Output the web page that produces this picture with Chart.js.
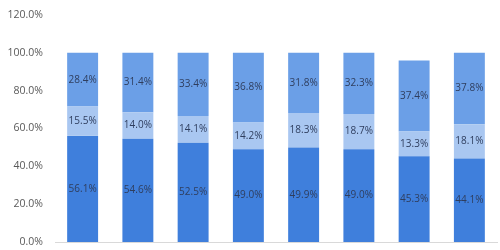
<!DOCTYPE html>
<html>
<head>
<meta charset="utf-8">
<script src="https://cdn.jsdelivr.net/npm/chart.js@4"></script>
<style>
  html, body { margin: 0; padding: 0; background: #fff; }
  canvas { display: block; }
</style>
</head>
<body>
<canvas id="chart" width="500" height="250"></canvas>
<script>
// data (x labels are cut off in the original)
const categories = ['1', '2', '3', '4', '5', '6', '7', '8'];
const bottomShare = [56.1, 54.6, 52.5, 49.0, 49.9, 49.0, 45.3, 44.1];
const middleShare = [15.5, 14.0, 14.1, 14.2, 18.3, 18.7, 13.3, 18.1];
const topShare = [28.4, 31.4, 33.4, 36.8, 31.8, 32.3, 37.4, 37.8];
const yTicks = [0, 20, 40, 60, 80, 100, 120];

// draw value text in the middle of each bar segment
const barLabels = {
  id: 'barLabels',
  afterDatasetsDraw(chart) {
    const ctx = chart.ctx;
    ctx.save();
    ctx.font = '10px "Open Sans", sans-serif';
    ctx.fillStyle = '#2f3e5e';
    ctx.textAlign = 'center';
    ctx.textBaseline = 'middle';
    chart.data.datasets.forEach((ds, i) => {
      chart.getDatasetMeta(i).data.forEach((bar, j) => {
        const y = (bar.y + bar.base) / 2;
        ctx.fillText(ds.data[j].toFixed(1) + '%', bar.x, y);
      });
    });
    ctx.restore();
  }
};

new Chart(document.getElementById('chart'), {
  type: 'bar',
  data: {
    labels: categories,
    datasets: [
      { label: 'a', data: bottomShare, backgroundColor: '#3f7fdc' },
      { label: 'b', data: middleShare, backgroundColor: '#a9c7f1' },
      { label: 'c', data: topShare, backgroundColor: '#6b9fe7' },
    ]
  },
  options: {
    responsive: false,
    animation: false,
    layout: { padding: { top: 15, bottom: 8, left: 0, right: 3 } },
    datasets: { bar: { categoryPercentage: 0.56, barPercentage: 1 } },
    plugins: { legend: { display: false }, tooltip: { enabled: false } },
    scales: {
      x: {
        stacked: true,
        grid: { display: false, drawTicks: false },
        border: { color: '#d9d9d9' },
        ticks: { display: false, padding: 0 },
        afterFit: (s) => { s.height = 0; }
      },
      y: {
        stacked: true,
        min: 0,
        max: 120,
        afterBuildTicks: (s) => { s.ticks = yTicks.map(v => ({ value: v })); },
        afterFit: (s) => { s.width = 55; s.paddingTop = 0; s.paddingBottom = 0; },
        grid: { display: false, drawTicks: false },
        border: { display: false },
        ticks: {
          color: '#595959',
          padding: 12,
          font: { family: '"Open Sans", sans-serif', size: 10.5 },
          callback: (v) => v.toFixed(1) + '%'
        }
      }
    }
  },
  plugins: [barLabels]
});
</script>
</body>
</html>
